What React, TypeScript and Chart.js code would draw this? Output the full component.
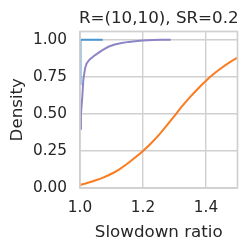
import React, { useEffect, useRef } from "react";
import { Chart, registerables } from "chart.js";

Chart.register(...registerables);

const TITLE = "R=(10,10), SR=0.2";
const X_LABEL = "Slowdown ratio";
const Y_LABEL = "Density";

const xTicks = [1.0, 1.2, 1.4];
const yTicks = [0, 0.25, 0.5, 0.75, 1.0];

const blueX = [1.0, 1.0, 1.003, 1.072];
const blueY = [0.7, 0.99, 1.0, 1.0];

const purpleX = [1.0, 1.003, 1.0073, 1.0105, 1.016, 1.021, 1.03, 1.048, 1.07, 1.09, 1.11, 1.132, 1.155, 1.175, 1.2, 1.23, 1.26, 1.288];
const purpleY = [0.40, 0.5, 0.615, 0.727, 0.806, 0.84, 0.865, 0.896, 0.928, 0.952, 0.967, 0.978, 0.985, 0.99, 0.994, 0.997, 0.999, 1.0];

const orangeX = [1.0, 1.025, 1.05, 1.075, 1.1, 1.125, 1.15, 1.175, 1.2, 1.225, 1.25, 1.275, 1.3, 1.325, 1.35, 1.375, 1.4, 1.425, 1.45, 1.475, 1.5, 1.52];
const orangeY = [0.02, 0.035, 0.052, 0.072, 0.096, 0.126, 0.163, 0.205, 0.25, 0.3, 0.356, 0.42, 0.487, 0.553, 0.614, 0.671, 0.723, 0.77, 0.811, 0.847, 0.879, 0.9];

const BLUE = "#4a96d0";
const PURPLE = "#8d86c6";
const ORANGE = "#fb7b1f";
const GRID = "#d0d0d0";
const TEXT = "#262626";
const FONT = "'DejaVu Sans', sans-serif";

const pts = (xs: number[], ys: number[]) => xs.map((x, i) => ({ x, y: ys[i] }));

export default function App() {
  const ref = useRef<HTMLCanvasElement>(null);
  useEffect(() => {
    const framePlugin = {
      id: "frame",
      afterDatasetsDraw(chart: any) {
        const { ctx, chartArea: a } = chart;
        ctx.save();
        ctx.strokeStyle = GRID;
        ctx.lineWidth = 1.7;
        ctx.strokeRect(a.left, a.top, a.right - a.left, a.bottom - a.top);
        ctx.restore();
      },
    };
    const titlePlugin = {
      id: "ttl",
      afterDraw(chart: any) {
        const { ctx, chartArea: a } = chart;
        ctx.save();
        ctx.font = `16.7px ${FONT}`;
        ctx.fillStyle = TEXT;
        ctx.textAlign = "center";
        ctx.textBaseline = "alphabetic";
        ctx.fillText(TITLE, (a.left + a.right) / 2, 22.8);
        ctx.restore();
      },
    };
    const line = (data: any, color: string, extra: any = {}) => ({
      data,
      borderColor: color,
      backgroundColor: color,
      borderWidth: 2,
      pointRadius: 0,
      showLine: true,
      fill: false,
      clip: 0,
      tension: 0,
      ...extra,
    });
    const chart = new Chart(ref.current as HTMLCanvasElement, {
      type: "scatter",
      data: {
        datasets: [
          line(pts(purpleX, purpleY), PURPLE),
          line(pts(orangeX, orangeY), ORANGE, { cubicInterpolationMode: "monotone" }),
          line(pts(blueX, blueY), BLUE),
        ],
      },
      options: {
        animation: false,
        responsive: false,
        devicePixelRatio: 1,
        layout: { padding: { top: 31.5, right: 12.5, left: 0, bottom: 0 } },
        plugins: {
          legend: { display: false },
          tooltip: { enabled: false },
          title: { display: false },
        },
        scales: {
          x: {
            type: "linear",
            min: 1.0,
            max: 1.5,
            afterFit: (s: any) => {
              s.height = 60;
            },
            afterBuildTicks: (s: any) => {
              s.ticks = xTicks.map((v) => ({ value: v }));
            },
            ticks: {
              callback: (v: any) => Number(v).toFixed(1),
              color: TEXT,
              font: { family: FONT, size: 15.3 },
              padding: 11,
              maxRotation: 0,
              autoSkip: false,
            },
            grid: { color: GRID, lineWidth: 1.4, drawTicks: false },
            border: { display: false },
            title: {
              display: true,
              text: X_LABEL,
              color: TEXT,
              font: { family: FONT, size: 16.7, lineHeight: 1.2 },
              padding: { top: 0, bottom: 5.7 },
            },
          },
          y: {
            type: "linear",
            min: 0,
            max: 1.055,
            afterFit: (s: any) => {
              s.width = 80;
            },
            afterBuildTicks: (s: any) => {
              s.ticks = yTicks.map((v) => ({ value: v }));
            },
            ticks: {
              callback: (v: any) => Number(v).toFixed(2),
              color: TEXT,
              font: { family: FONT, size: 15.3 },
              padding: 13,
              autoSkip: false,
            },
            grid: { color: GRID, lineWidth: 1.4, drawTicks: false },
            border: { display: false },
            title: {
              display: true,
              text: Y_LABEL,
              color: TEXT,
              font: { family: FONT, size: 16.7, lineHeight: 1.2 },
              padding: { top: 7.2, bottom: 0 },
            },
          },
        },
      },
      plugins: [framePlugin, titlePlugin],
    } as any);
    return () => chart.destroy();
  }, []);
  return (
    <div style={{ position: "absolute", left: 0, top: 0, width: 250, height: 248 }}>
      <canvas ref={ref} width={250} height={248} style={{ display: "block" }} />
    </div>
  );
}
